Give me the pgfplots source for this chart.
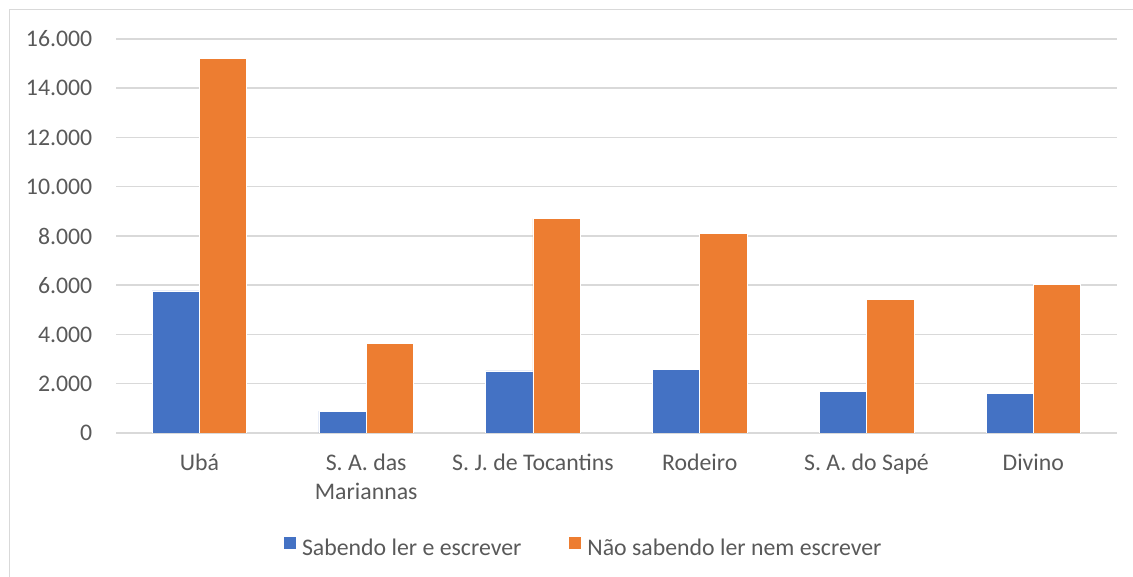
\documentclass[border=0pt]{standalone}
\usepackage{fontspec}
\setmainfont{Carlito}
\usepackage{pgfplots}
\pgfplotsset{compat=1.18}
\definecolor{barBlue}{HTML}{4472C4}
\definecolor{barOrange}{HTML}{ED7D31}
\definecolor{gridGray}{HTML}{D9D9D9}
\definecolor{txtGray}{HTML}{595959}
\newcommand{\lblfont}{\fontsize{11.9}{14.5}\selectfont}
\begin{document}
\begin{tikzpicture}
\useasboundingbox (0,0) rectangle (566.5pt,288.5pt);
% chart area frame (right and bottom edges fall outside the picture)
\draw[gridGray, line width=0.5pt] (4.75pt,-2pt) -- (4.75pt,283.75pt) -- (570pt,283.75pt);
\begin{axis}[
  at={(58pt,72pt)}, anchor=south west,
  scale only axis, width=500.35pt, height=197pt,
  xmin=-0.5, xmax=5.5, ymin=0, ymax=16000,
  xtick={0,1,2,3,4,5},
  xticklabels={Ubá, {S. A. das\\Mariannas}, S. J. de Tocantins, Rodeiro, S. A. do Sapé, Divino},
  ytick={0,2000,...,16000},
  scaled y ticks=false,
  /pgf/number format/.cd, 1000 sep={.}, assume math mode=true, /pgfplots/.cd,
  axis line style={draw=none},
  major tick length=0pt,
  ymajorgrids, grid style={gridGray, line width=0.75pt},
  tick label style={font=\lblfont, text=txtGray, inner sep=0pt},
  xticklabel style={anchor=north, align=center, yshift=-10.4pt},
  yticklabel style={anchor=east, xshift=-11.65pt},
  bar width=0.2836,
  legend columns=2,
  legend style={at={(0.4657,-0.2906)}, anchor=center, draw=none, fill=none,
    font=\lblfont, text=txtGray, nodes={inner sep=0pt},
    /tikz/every odd column/.append style={column sep=2.9pt},
    /tikz/every even column/.append style={column sep=23.3pt}},
  legend image code/.code={\fill[#1] (0pt,-0.2pt) rectangle (6.5pt,6.3pt);},
]
\addplot[ybar, bar shift=-0.1418, fill=barBlue, draw=white, line width=0.3pt]
  coordinates {(0,5770) (1,890) (2,2520) (3,2590) (4,1690) (5,1600)};
\addlegendentry{Sabendo ler e escrever}
\addplot[ybar, bar shift=0.1418, fill=barOrange, draw=white, line width=0.3pt]
  coordinates {(0,15200) (1,3650) (2,8710) (3,8120) (4,5440) (5,6030)};
\addlegendentry{Não sabendo ler nem escrever}
\end{axis}
\end{tikzpicture}
\end{document}
